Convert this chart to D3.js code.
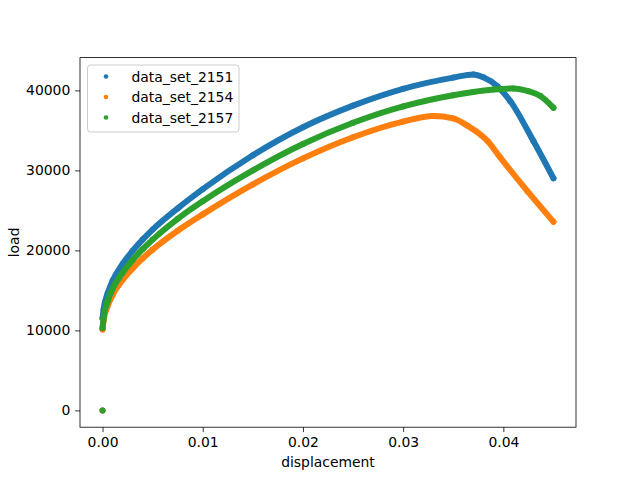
<!DOCTYPE html>
<html>
<head>
<meta charset="utf-8">
<script src="https://cdn.jsdelivr.net/npm/d3@7"></script>
<style>
  body { margin: 0; background: #fff; }
  svg { font-family: "DejaVu Sans", sans-serif; }
</style>
</head>
<body>
<svg id="svg"></svg>
<script>
// values: [displacement, load]
let names = ["data_set_2151", "data_set_2154", "data_set_2157"];
let colors = ["#1f77b4", "#ff7f0e", "#2ca02c"];

let set2151 = [
    [0, 0], [0, 11500], [0.0001, 12600], [0.0005, 14600], [0.001, 16200],
    [0.002, 18300], [0.003, 19950], [0.004, 21350], [0.005, 22600],
    [0.0075, 25250], [0.01, 27650], [0.015, 31900], [0.02, 35400],
    [0.025, 38100], [0.03, 40200], [0.035, 41600], [0.037, 42000],
    [0.038, 41650], [0.0394, 40530], [0.0407, 38650], [0.043, 33670],
    [0.045, 29010]
];
let set2154 = [
    [0, 0], [0, 10100], [0.0001, 11200], [0.0005, 13000], [0.001, 14400],
    [0.002, 16300], [0.003, 17750], [0.004, 19000], [0.005, 20100],
    [0.0075, 22450], [0.01, 24500], [0.015, 28250], [0.02, 31500],
    [0.025, 34150], [0.03, 36100], [0.033, 36800], [0.035, 36500],
    [0.0364, 35600], [0.0384, 33700], [0.0397, 31600], [0.0424, 27400],
    [0.045, 23570]
];
let set2157 = [
    [0, 0], [0, 10300], [0.0001, 11500], [0.0005, 13600], [0.001, 15200],
    [0.002, 17200], [0.003, 18800], [0.004, 20150], [0.005, 21350],
    [0.0075, 23950], [0.01, 26150], [0.015, 30000], [0.02, 33300],
    [0.025, 35950], [0.03, 38000], [0.035, 39400], [0.037, 39800],
    [0.039, 40100], [0.041, 40250], [0.0425, 39900], [0.0437, 39300],
    [0.045, 37820]
];
let xTicks = [0, 0.01, 0.02, 0.03, 0.04];
let yTicks = [0, 10000, 20000, 30000, 40000];

let width = 640, height = 480;
let margin = {left: 80, right: 64, top: 57.6, bottom: 52.8};
let svg = d3.select("#svg").attr("width", width).attr("height", height);

let sets = [set2151, set2154, set2157];
let all = sets.flat();
let xExt = d3.extent(all, d => d[0]), yExt = d3.extent(all, d => d[1]);
let xPad = (xExt[1] - xExt[0]) * 0.05, yPad = (yExt[1] - yExt[0]) * 0.05;

let x = d3.scaleLinear().domain([xExt[0] - xPad, xExt[1] + xPad])
    .range([margin.left, width - margin.right]);
let y = d3.scaleLinear().domain([yExt[0] - yPad, yExt[1] + yPad])
    .range([height - margin.bottom, margin.top]);

// series: dense markers look like a thick band
let line = d3.line().x(d => x(d[0])).y(d => y(d[1])).curve(d3.curveMonotoneX);
sets.forEach(function(s, i) {
    let g = svg.append("g");
    g.append("path")
        .attr("d", line(s.filter(d => d[1] > 0)))
        .attr("fill", "none")
        .attr("stroke", colors[i])
        .attr("stroke-width", 6)
        .attr("stroke-linecap", "round")
        .attr("stroke-linejoin", "round");
    g.selectAll("circle").data(s).join("circle")
        .attr("cx", d => x(d[0]))
        .attr("cy", d => y(d[1]))
        .attr("r", 3)
        .attr("fill", colors[i]);
});

// axes
let xAxis = d3.axisBottom(x).tickValues(xTicks).tickFormat(d3.format(".2f"))
    .tickSizeInner(4.86).tickSizeOuter(0).tickPadding(4.86);
let yAxis = d3.axisLeft(y).tickValues(yTicks).tickFormat(d3.format("d"))
    .tickSizeInner(4.86).tickSizeOuter(0).tickPadding(4.86);

let gx = svg.append("g").attr("transform", `translate(0,${height - margin.bottom})`).call(xAxis);
let gy = svg.append("g").attr("transform", `translate(${margin.left},0)`).call(yAxis);
[gx, gy].forEach(g => {
    g.select(".domain").remove();
    g.selectAll("line").attr("stroke", "#000").attr("stroke-width", 0.8);
    g.selectAll("text").attr("fill", "#000").style("font-size", "13.9px")
        .style("font-family", "DejaVu Sans");
});

// frame
svg.append("rect")
    .attr("x", margin.left).attr("y", margin.top)
    .attr("width", width - margin.left - margin.right)
    .attr("height", height - margin.top - margin.bottom)
    .attr("fill", "none").attr("stroke", "#000").attr("stroke-width", 0.8);

svg.append("text")
    .attr("x", (margin.left + width - margin.right) / 2).attr("y", 467)
    .attr("text-anchor", "middle").style("font-size", "13.9px")
    .text("displacement");
svg.append("text")
    .attr("transform", `translate(19,${(margin.top + height - margin.bottom) / 2}) rotate(-90)`)
    .attr("text-anchor", "middle").style("font-size", "13.9px")
    .text("load");

// legend
let lg = svg.append("g");
lg.append("rect")
    .attr("x", 87.5).attr("y", 65).attr("width", 151.5).attr("height", 67)
    .attr("rx", 3).attr("fill", "#fff").attr("fill-opacity", 0.8)
    .attr("stroke", "#cccccc").attr("stroke-width", 1);
names.forEach(function(n, i) {
    let cy = 76.5 + i * 20.5;
    lg.append("circle").attr("cx", 106).attr("cy", cy).attr("r", 2.3).attr("fill", colors[i]);
    lg.append("text").attr("x", 131.5).attr("y", cy + 5)
        .style("font-size", "13.9px").text(n);
});
</script>
</body>
</html>
